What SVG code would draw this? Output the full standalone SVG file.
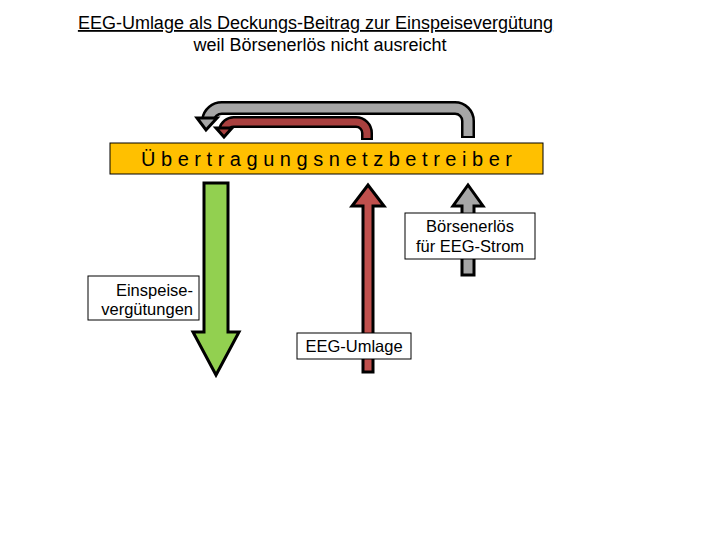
<svg xmlns="http://www.w3.org/2000/svg" width="720" height="540" viewBox="0 0 720 540">
<style>
  text { font-family: "Liberation Sans", Arial, sans-serif; fill: #000; }
  .lbl { font-size: 16.5px; }
  .box { fill: #fff; stroke: #000; stroke-width: 1; }
  .outline { fill: none; stroke: #000; stroke-linejoin: round; }
  .arrow { stroke: #000; stroke-width: 3; stroke-linejoin: miter; }
</style>
<rect width="720" height="540" fill="#fff"/>
<g id="title">
  <text x="315.5" y="29" font-size="18" text-anchor="middle" text-decoration="underline">EEG-Umlage als Deckungs-Beitrag zur Einspeisevergütung</text>
  <text x="320" y="51" font-size="18" text-anchor="middle">weil Börsenerlös nicht ausreicht</text>
</g>
<g id="connectors">
  <!-- gray return arc -->
  <path d="M468,138 V121 A13,13 0 0 0 455,108 H222 A14,14 0 0 0 208,120" class="outline" stroke-width="14"/>
  <path d="M468,136 V121 A13,13 0 0 0 455,108 H222 A14,14 0 0 0 208,120" fill="none" stroke="#A6A6A6" stroke-width="9"/>
  <polygon points="197,118 217,118 206,130" fill="#A6A6A6" class="arrow"/>
  <!-- red return arc -->
  <path d="M367,140 V133 A11,11 0 0 0 356,122 H234 A10,10 0 0 0 224,130" class="outline" stroke-width="12"/>
  <path d="M367,138 V133 A11,11 0 0 0 356,122 H234 A10,10 0 0 0 224,130" fill="none" stroke="#A9403F" stroke-width="7"/>
  <polygon points="216,128 232,128 224,137" fill="#A9403F" class="arrow"/>
</g>
<g id="netzbetreiber">
  <rect x="110" y="143" width="433" height="31" fill="#FFC000" stroke="#000" stroke-width="1"/>
  <text x="141" y="166" font-size="20" textLength="371" lengthAdjust="spacing">Übertragungsnetzbetreiber</text>
</g>
<g id="einspeise-arrow">
  <polygon points="204,183 228,183 228,332 239,332 216,375 193,332 204,332" fill="#92D050" class="arrow"/>
</g>
<g id="umlage-arrow">
  <polygon points="363,372 373,372 373,206 384,206 368,185 352,206 363,206" fill="#C0504D" class="arrow"/>
</g>
<g id="boersen-arrow">
  <polygon points="462,275 474,275 474,206 483,206 468,185 453,206 462,206" fill="#A6A6A6" class="arrow"/>
</g>
<g id="boersen-label">
  <rect x="405" y="213" width="130" height="46" class="box"/>
  <text x="470" y="232" class="lbl" text-anchor="middle">Börsenerlös</text>
  <text x="470" y="252" class="lbl" text-anchor="middle">für EEG-Strom</text>
</g>
<g id="einspeise-label">
  <rect x="88" y="276" width="111" height="44" class="box"/>
  <text x="193" y="296" class="lbl" text-anchor="end">Einspeise-</text>
  <text x="193" y="315" class="lbl" text-anchor="end">vergütungen</text>
</g>
<g id="umlage-label">
  <rect x="297" y="333" width="114" height="26" class="box"/>
  <text x="354" y="352" class="lbl" text-anchor="middle">EEG-Umlage</text>
</g>
</svg>
